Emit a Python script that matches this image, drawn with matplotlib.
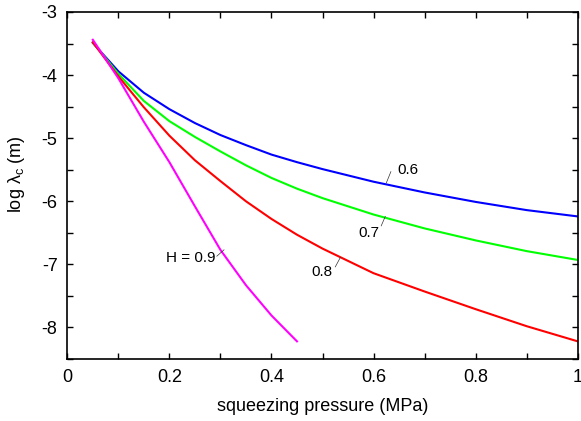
import matplotlib
matplotlib.use('Agg')
from matplotlib import pyplot as plt
from matplotlib.ticker import MultipleLocator

plt.rcParams['font.family'] = ['Liberation Sans', 'DejaVu Sans']
plt.rcParams['mathtext.fontset'] = 'custom'
plt.rcParams['mathtext.rm'] = 'Liberation Sans'
plt.rcParams['mathtext.it'] = 'Liberation Sans'

# squeezing pressure (MPa)
pressure = [0.05, 0.1, 0.15, 0.2, 0.25, 0.3, 0.35, 0.4, 0.45, 0.5, 0.6, 0.7, 0.8, 0.9, 1.0]
# log lambda_c for each H
h06 = [-3.49, -3.94, -4.28, -4.54, -4.76, -4.95, -5.11, -5.26, -5.38, -5.49, -5.69, -5.86, -6.01, -6.14, -6.24]
h07 = [-3.48, -3.98, -4.41, -4.73, -4.98, -5.21, -5.43, -5.63, -5.80, -5.95, -6.21, -6.43, -6.62, -6.79, -6.93]
h08 = [-3.48, -4.02, -4.51, -4.96, -5.35, -5.68, -6.00, -6.28, -6.53, -6.75, -7.14, -7.43, -7.71, -7.98, -8.22]
pressure09 = [0.05, 0.1, 0.15, 0.2, 0.25, 0.3, 0.35, 0.4, 0.45]
h09 = [-3.44, -4.05, -4.74, -5.38, -6.08, -6.77, -7.33, -7.81, -8.22]

series = [
    (pressure, h06, '#0000ff', '0.6'),
    (pressure, h07, '#00ff00', '0.7'),
    (pressure, h08, '#ff0000', '0.8'),
    (pressure09, h09, '#ff00ff', 'H = 0.9'),
]

# label text position, leader start, leader end (data coords)
labels = {
    '0.6': ((0.646, -5.50, 'left'), (0.625, -5.71), (0.634, -5.53)),
    '0.7': ((0.590, -6.50, 'center'), (0.615, -6.39), (0.623, -6.24)),
    '0.8': ((0.499, -7.12, 'center'), (0.525, -7.04), (0.535, -6.89)),
    'H = 0.9': ((0.241, -6.90, 'center'), (0.293, -6.87), (0.307, -6.77)),
}

fig = plt.figure(figsize=(5.81, 4.21), dpi=100)
ax = fig.add_axes([67.3/581, 1-359/421, 510.4/581, 347/421])

for x, y, c, name in series:
    ax.plot(x, y, color=c, lw=1.5)
    (tx, ty, ha), p0, p1 = labels[name]
    ax.plot([p0[0], p1[0]], [p0[1], p1[1]], color='#333333', lw=0.5)
    ax.text(tx, ty, name, fontsize=11, ha=ha, va='center')

ax.set_xlim(0, 1)
ax.set_ylim(-8.5, -3)
ax.xaxis.set_major_locator(MultipleLocator(0.2))
ax.xaxis.set_minor_locator(MultipleLocator(0.1))
ax.yaxis.set_major_locator(MultipleLocator(1))
ax.yaxis.set_minor_locator(MultipleLocator(0.5))
ax.set_xticks([0, 0.2, 0.4, 0.6, 0.8, 1.0])
ax.set_xticklabels(['0', '0.2', '0.4', '0.6', '0.8', '1'])
ax.set_yticks([-3, -4, -5, -6, -7, -8])
ax.set_yticklabels(['-3', '-4', '-5', '-6', '-7', '-8'])
ax.tick_params(which='both', direction='in', top=True, right=True, length=4, width=1, labelsize=13)
ax.tick_params(axis='y', pad=7)
ax.tick_params(axis='x', pad=7)
for s in ax.spines.values():
    s.set_linewidth(1.2)

ax.set_xlabel('squeezing pressure (MPa)', fontsize=13, labelpad=9)
ax.set_ylabel(r'log $\lambda_{\rm c}$ (m)', fontsize=13)
ax.yaxis.set_label_coords(-0.078, 0.533)

fig.savefig('out.png', dpi=100)
